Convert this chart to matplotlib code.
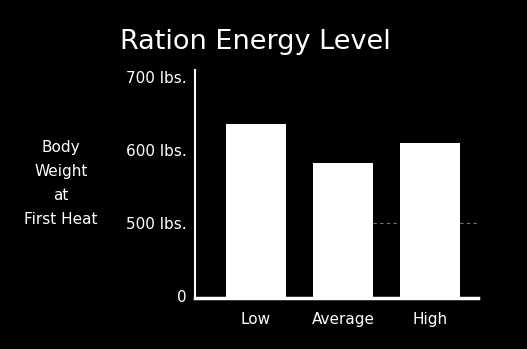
import matplotlib.pyplot as plt
import numpy as np

# data
levels = ["Low", "Average", "High"]
weights = [636, 583, 610]
tick_vals = [400, 500, 600, 700]
tick_labels = ["0", "500 lbs.", "600 lbs.", "700 lbs."]

plt.rcParams['font.family'] = ['DejaVu Sans']

fig = plt.figure(figsize=(5.27, 3.49), dpi=100)
fig.patch.set_facecolor("black")
ax = fig.add_axes([0.370, 0.146, 0.537, 0.653])
ax.set_facecolor("black")

x = np.arange(len(levels))
ax.bar(x, weights, width=0.68, color="white", zorder=3)

# faint dashed guide at 500 lbs, visible in the gaps
ax.hlines(500, 1.34, 2.55, colors="#777777", linestyles=(0, (3, 3)),
          linewidth=0.8, zorder=1)

ax.set_xlim(-0.70, 2.55)
ax.set_ylim(397, 710)
ax.set_xticks(x)
ax.set_xticklabels(levels)
ax.set_yticks(tick_vals)
ax.set_yticklabels(tick_labels)
ax.tick_params(axis="both", length=0, colors="white", labelsize=11)
ax.tick_params(axis="y", pad=6)
ax.tick_params(axis="x", pad=10)

for side in ["top", "right"]:
    ax.spines[side].set_visible(False)
ax.spines["left"].set_color("white")
ax.spines["left"].set_linewidth(1.5)
ax.spines["bottom"].set_color("white")
ax.spines["bottom"].set_linewidth(2.5)

fig.text(0.484, 0.88, "Ration Energy Level", color="white", fontsize=19.5,
         ha="center", va="center")
fig.text(0.116, 0.474, "Body\nWeight\nat\nFirst Heat", color="white",
         fontsize=11, ha="center", va="center", linespacing=1.75,
         multialignment="center")

fig.savefig("out.png", dpi=100, facecolor="black")
